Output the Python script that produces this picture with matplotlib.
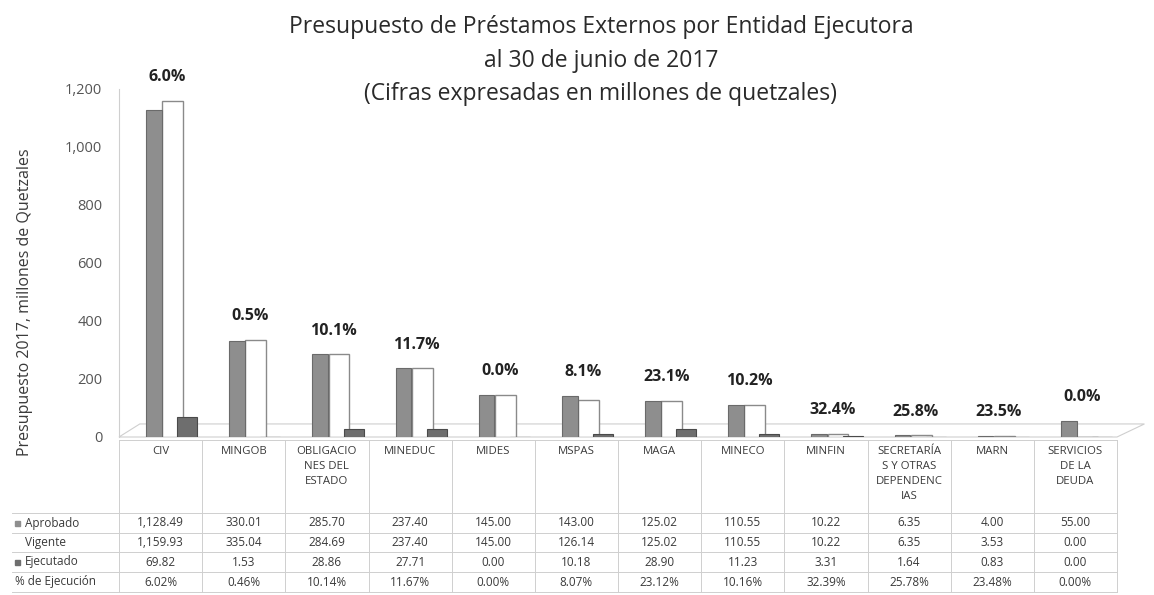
import numpy as np
import matplotlib.pyplot as plt
from matplotlib.patches import Rectangle, Polygon

# ===== DATEN =====
entidades = ["CIV", "MINGOB", "OBLIGACIO\nNES DEL\nESTADO", "MINEDUC", "MIDES", "MSPAS",
             "MAGA", "MINECO", "MINFIN", "SECRETARÍA\nS Y OTRAS\nDEPENDENC\nIAS", "MARN",
             "SERVICIOS\nDE LA\nDEUDA"]
aprobado = [1128.49, 330.01, 285.70, 237.40, 145.00, 143.00, 125.02, 110.55, 10.22, 6.35, 4.00, 55.00]
vigente = [1159.93, 335.04, 284.69, 237.40, 145.00, 126.14, 125.02, 110.55, 10.22, 6.35, 3.53, 0.00]
ejecutado = [69.82, 1.53, 28.86, 27.71, 0.00, 10.18, 28.90, 11.23, 3.31, 1.64, 0.83, 0.00]
pct_ejec = [6.02, 0.46, 10.14, 11.67, 0.00, 8.07, 23.12, 10.16, 32.39, 25.78, 23.48, 0.00]
yticks = [0, 200, 400, 600, 800, 1000, 1200]

c_apr = "#8e8e8e"
c_vig = "#ffffff"
c_eje = "#6e6e6e"
c_txt = "#3a3a3a"
c_grid = "#cfcfcf"

plt.rcParams['font.family'] = ['Open Sans', 'DejaVu Sans']

W, H = 1154, 595
fig = plt.figure(figsize=(W / 100, H / 100), dpi=100)

def fx(px):
    return px / W

def fy(py):
    return 1 - py / H

x0, x1 = 119, 1117   # table / plot columns in pixels

# ===== BALKEN =====
ax = fig.add_axes([fx(x0), fy(437), fx(x1) - fx(x0), fy(89) - fy(437)])
x = np.arange(len(entidades))
ax.bar(x - 0.08, aprobado, width=0.19, color=c_apr, edgecolor="#6a6a6a", linewidth=0.8, zorder=3)
ax.bar(x + 0.145, vigente, width=0.25, color=c_vig, edgecolor="#8a8a8a", linewidth=1.0, zorder=2)
ax.bar(x + 0.32, ejecutado, width=0.24, color=c_eje, edgecolor="#4a4a4a", linewidth=0.8, zorder=4)

for i in range(len(entidades)):
    top = max(aprobado[i], vigente[i])
    ax.annotate(f"{pct_ejec[i]:.1f}%", (x[i] + 0.08, top), xytext=(0, 17), textcoords="offset points",
                ha="center", va="center", fontsize=11.5, fontweight="bold", color="#222222")

ax.set_xlim(-0.5, len(entidades) - 0.5)
ax.set_ylim(0, 1200)
ax.set_yticks(yticks)
ax.set_yticklabels([f"{v:,}" for v in yticks], fontsize=10.5, color="#555555")
ax.set_xticks([])
ax.tick_params(axis="y", length=0, pad=12)
for s in ["top", "right", "bottom"]:
    ax.spines[s].set_visible(False)
ax.spines["left"].set_color(c_grid)
ax.set_ylabel("Presupuesto 2017, millones de Quetzales", fontsize=11.5, color=c_txt)
ax.yaxis.set_label_coords((33 - x0) / (x1 - x0), (437 - 302) / (437 - 89))
ax.set_facecolor("none")

# perspective floor
n = len(entidades)
ax.add_patch(Polygon([(-0.5, 0), (n - 0.5, 0), (n - 0.17, 45), (-0.25, 45)], closed=True,
                     facecolor="none", edgecolor=c_grid, lw=0.8, clip_on=False, zorder=1))

# ===== TITEL =====
for txt, base in [("Presupuesto de Préstamos Externos por Entidad Ejecutora", 33),
                  ("al 30 de junio de 2017", 67),
                  ("(Cifras expresadas en millones de quetzales)", 100)]:
    fig.text(fx(601), fy(base), txt, ha="center", va="baseline", fontsize=16.5, color="#2a2a2a")

# ===== TABELLE =====
tab = fig.add_axes([0, 0, 1, 1], facecolor="none")
tab.set_xlim(0, W)
tab.set_ylim(H, 0)
tab.axis("off")

colw = (x1 - x0) / len(entidades)
row_lines = [513, 533, 552, 572, 592]
for i in range(len(entidades) + 1):
    tab.plot([x0 + i * colw] * 2, [440, 592], color=c_grid, lw=0.7)
tab.plot([x0, x1], [440, 440], color=c_grid, lw=0.7)
for yy in row_lines:
    tab.plot([12, x1], [yy, yy], color=c_grid, lw=0.7)

for i, name in enumerate(entidades):
    tab.text(x0 + (i + 0.5) * colw, 446, name, ha="center", va="top", fontsize=8.2,
             color=c_txt, linespacing=1.5)

rows = [("Aprobado", aprobado, c_apr), ("Vigente", vigente, None), ("Ejecutado", ejecutado, c_eje)]
for r, (lab, vals, col) in enumerate(rows):
    yc = (row_lines[r] + row_lines[r + 1]) / 2
    if col is not None:
        tab.add_patch(Rectangle((15, yc - 2.5), 5, 5, color=col))
    tab.text(25, yc, lab, ha="left", va="center", fontsize=8.5, color=c_txt)
    for i, v in enumerate(vals):
        tab.text(x0 + (i + 0.5) * colw, yc, f"{v:,.2f}", ha="center", va="center", fontsize=8.5, color=c_txt)

yc = (row_lines[3] + row_lines[4]) / 2
tab.text(15, yc, "% de Ejecución", ha="left", va="center", fontsize=8.5, color=c_txt)
for i, v in enumerate(pct_ejec):
    tab.text(x0 + (i + 0.5) * colw, yc, f"{v:.2f}%", ha="center", va="center", fontsize=8.5, color=c_txt)

fig.savefig("out.png", dpi=100)
